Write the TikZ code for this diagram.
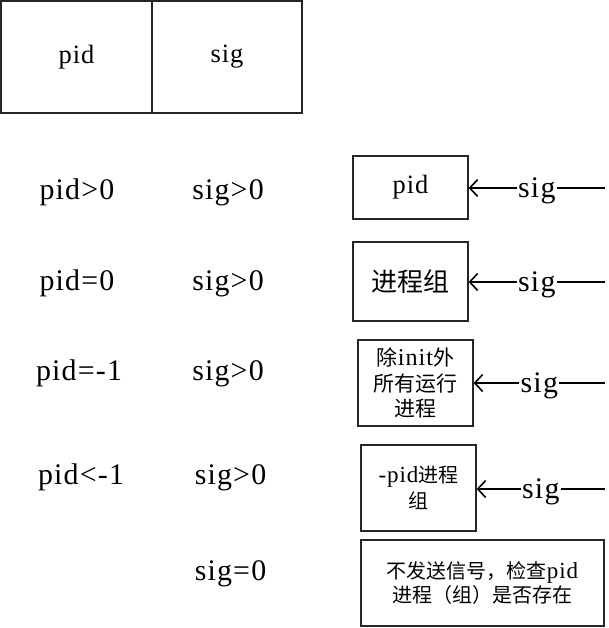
\documentclass[tikz,border=0pt]{standalone}
\usepackage{fontspec}
\setmainfont{Liberation Serif}[LetterSpace=4, Scale=1.15]
\newfontfamily\cjk{Noto Sans CJK SC}
\usetikzlibrary{arrows.meta}
\tikzset{
  box/.style={draw=black!85, line width=1.2pt, inner sep=0pt, align=center},
  lbl/.style={inner sep=0pt, anchor=base, font=\fontsize{26}{30}\selectfont},
  sigarrow/.style={line width=1.6pt, -{Straight Barb[length=8pt,width=17pt,line width=1.6pt]}},
  siglbl/.style={fill=white, inner sep=1.5pt, anchor=base, yshift=-9pt, font=\fontsize{26}{30}\selectfont}
}
\begin{document}
\begin{tikzpicture}[x=1pt,y=-1pt]
\useasboundingbox (0,0) rectangle (609,628);
% header table
\node[box, minimum width=151pt, minimum height=112pt, font=\fontsize{23}{26}\selectfont] (hpid) at (76.5,57) {pid};
\node[box, minimum width=150pt, minimum height=112pt, font=\fontsize{23}{26}\selectfont] (hsig) at (227,57) {sig};
% left labels
\node[lbl] (p1) at (77,200) {pid>0};
\node[lbl] (s1) at (228,200) {sig>0};
\node[lbl] (p2) at (77,290) {pid=0};
\node[lbl] (s2) at (228,290) {sig>0};
\node[lbl] (p3) at (79,380) {pid=-1};
\node[lbl] (s3) at (228,380) {sig>0};
\node[lbl] (p4) at (81,484) {pid<-1};
\node[lbl] (s4) at (230.5,484) {sig>0};
\node[lbl] (s5) at (230.5,580) {sig=0};
% right boxes
\node[box, minimum width=115pt, minimum height=63pt, font=\fontsize{23}{26}\selectfont] (b1) at (410.5,187.5) {pid};
\node[box, minimum width=115pt, minimum height=79pt, font=\fontsize{26}{30}\selectfont\cjk] (b2) at (410.5,281.5) {进程组};
\node[box, minimum width=115pt, minimum height=86pt, font=\fontsize{21}{25.5}\selectfont] (b3) at (415.5,383) {{\cjk 除}init{\cjk 外}\\{\cjk 所有运行}\\{\cjk 进程}};
\node[box, minimum width=115pt, minimum height=86pt, font=\fontsize{20}{26}\selectfont] (b4) at (418.5,488) {-pid{\cjk 进程}\\{\cjk 组}};
\node[box, minimum width=243pt, minimum height=86pt, font=\fontsize{20}{24}\selectfont] (b5) at (482.5,583) {{\cjk 不发送信号，检查}pid\\{\cjk 进程（组）是否存在}};
% arrows
\coordinate (e1) at (605,188);
\coordinate (e2) at (605,282);
\coordinate (e3) at (605,383);
\coordinate (e4) at (605,489);
\draw[sigarrow] (e1) -- node[siglbl] {sig} (b1.east |- e1);
\draw[sigarrow] (e2) -- node[siglbl] {sig} (b2.east |- e2);
\draw[sigarrow] (e3) -- node[siglbl] {sig} (b3.east |- e3);
\draw[sigarrow] (e4) -- node[siglbl] {sig} (b4.east |- e4);
\end{tikzpicture}
\end{document}
